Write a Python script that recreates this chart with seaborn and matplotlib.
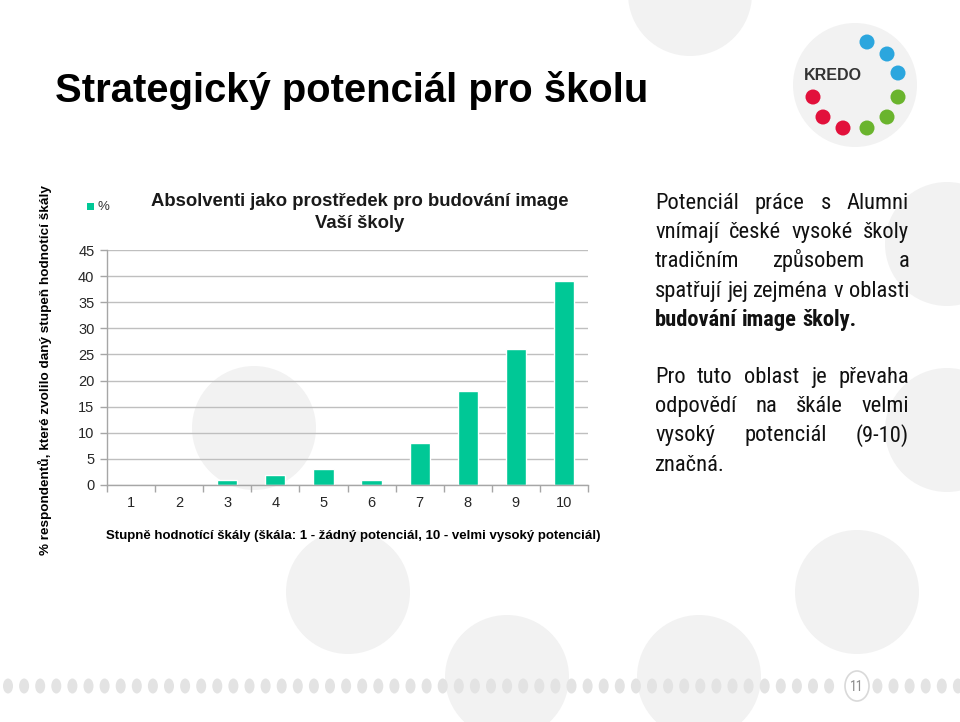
import matplotlib
matplotlib.use('Agg')
import matplotlib.pyplot as plt
import seaborn as sns
import pandas as pd
import numpy as np
from matplotlib.patches import Ellipse, Circle, Rectangle
from matplotlib import font_manager as fm
from matplotlib.ticker import FixedLocator

# ---------------- data ----------------
categories = ['1', '2', '3', '4', '5', '6', '7', '8', '9', '10']
values = [0, 0, 1, 2, 3, 1, 8, 18, 26, 39]
y_ticks = [0, 5, 10, 15, 20, 25, 30, 35, 40, 45]

slide_title = 'Strategický potenciál pro školu'
chart_title_lines = ['Absolventi jako prostředek pro budování image', 'Vaší školy']
legend_label = '%'
y_label = '% respondentů, které zvolilo daný stupeň hodnotící škály'
x_label = 'Stupně hodnotící škály (škála: 1 - žádný potenciál, 10 - velmi vysoký potenciál)'
para1 = ['Potenciál práce s Alumni',
         'vnímají české vysoké školy',
         'tradičním způsobem a',
         'spatřují jej zejména v oblasti']
para1_bold = 'budování image školy.'
para2 = ['Pro tuto oblast je převaha',
         'odpovědí na škále velmi',
         'vysoký potenciál (9-10)',
         'značná.']
page_number = '11'

BAR = '#00c896'
CIRC = '#f2f2f2'

sns.set_theme(style='white')
plt.rcParams['font.family'] = ['Liberation Sans', 'DejaVu Sans']


# ---- find a condensed / narrow font for the right-hand text ----
def pick_condensed(weight):
    prefs = ['Liberation Sans Narrow', 'Roboto Condensed', 'Open Sans Condensed',
             'Noto Sans', 'DejaVu Sans']
    cands = []
    for f in fm.fontManager.ttflist:
        st = str(f.stretch).lower()
        nm = f.name
        cond = ('condensed' in st) or ('narrow' in nm.lower()) or ('condensed' in nm.lower())
        if not cond or str(f.style) != 'normal':
            continue
        if 'extra' in st or 'ultra' in st:
            continue
        rank = len(prefs)
        for i, p in enumerate(prefs):
            if nm.startswith(p):
                rank = i
                break
        try:
            w = int(f.weight)
        except Exception:
            w = 700 if 'bold' in str(f.weight).lower() else 400
        cands.append((rank, abs(w - weight), f.fname))
    if not cands:
        return None
    cands.sort()
    return cands[0][2]


reg_file = pick_condensed(400)
bold_file = pick_condensed(700)
if reg_file:
    FP_REG = fm.FontProperties(fname=reg_file)
    FP_BOLD = fm.FontProperties(fname=bold_file) if bold_file else fm.FontProperties(fname=reg_file, weight='bold')
    CONDENSED = True
else:
    FP_REG = fm.FontProperties(family=['Liberation Sans', 'DejaVu Sans'])
    FP_BOLD = fm.FontProperties(family=['Liberation Sans', 'DejaVu Sans'], weight='bold')
    CONDENSED = False

fig = plt.figure(figsize=(9.6, 7.22), dpi=100)
fig.patch.set_facecolor('white')

bg = fig.add_axes([0, 0, 1, 1])
bg.set_xlim(0, 960)
bg.set_ylim(722, 0)
bg.axis('off')
bg.set_zorder(0)

# background circles
for cx, cy in [(690, -6), (855, 85), (254, 428), (947, 244), (947, 430),
               (348, 592), (857, 592), (507, 677), (699, 677)]:
    bg.add_patch(Circle((cx, cy), 62, color=CIRC, lw=0, zorder=0))

# logo
bg.text(804, 76, 'KREDO', fontsize=11.5, fontweight='bold', color='#333333',
        ha='left', va='center', zorder=2)
logo_dots = [((867, 42), '#2ba6de'), ((887, 54), '#2ba6de'), ((898, 73), '#2ba6de'),
             ((898, 97), '#6ab42d'), ((887, 117), '#6ab42d'), ((867, 128), '#6ab42d'),
             ((843, 128), '#e2103b'), ((823, 117), '#e2103b'), ((813, 97), '#e2103b')]
for (cx, cy), c in logo_dots:
    bg.add_patch(Circle((cx, cy), 7.5, color=c, lw=0, zorder=2))

# footer dots
for k in range(60):
    x = 8 + 16.1 * k
    if x > 965:
        break
    if abs(x - 857) < 20:
        continue
    bg.add_patch(Ellipse((x, 686), 10, 15, color='#e3e3e3', lw=0, zorder=1))
bg.add_patch(Ellipse((857, 686), 24, 30, fc='white', ec='#d9d9d9', lw=1.2, zorder=2))
bg.text(857, 687, page_number, fontsize=10, color='#8c8c8c', ha='center', va='center',
        fontproperties=FP_REG, zorder=3)

# slide title
bg.text(55, 91, slide_title, fontsize=28.8, fontweight='bold', color='black',
        ha='left', va='center', zorder=3)

# chart titles / labels
bg.text(360, 201, chart_title_lines[0], fontsize=13.3, fontweight='bold', color='#1a1a1a',
        ha='center', va='center', zorder=3)
bg.text(360, 224, chart_title_lines[1], fontsize=13.3, fontweight='bold', color='#1a1a1a',
        ha='center', va='center', zorder=3)
bg.add_patch(Rectangle((87, 203), 7, 7, color=BAR, lw=0, zorder=3))
bg.text(97, 207, legend_label, fontsize=9.5, color='#333333', ha='left', va='center', zorder=3)
bg.text(45, 370, y_label, fontsize=9.7, fontweight='bold', color='black', rotation=90,
        ha='center', va='center', zorder=3)
bg.text(353, 536, x_label, fontsize=9.5, fontweight='bold', color='black',
        ha='center', va='center', zorder=3)

# ---------------- chart ----------------
ax = fig.add_axes([107 / 960, 1 - 485 / 722, (588 - 107) / 960, (485 - 250) / 722])
ax.set_zorder(2)
ax.patch.set_alpha(0)
df = pd.DataFrame({'Stupeň': categories, 'Procento': values})
sns.barplot(data=df, x='Stupeň', y='Procento', color=BAR, saturation=1,
            width=0.42, ax=ax)
ax.set_xlim(-0.5, len(categories) - 0.5)
ax.set_ylim(y_ticks[0], y_ticks[-1])
ax.set_yticks(y_ticks)
ax.set_yticklabels([str(v) for v in y_ticks])
ax.yaxis.grid(True, color='#bfbfbf', lw=1)
ax.xaxis.grid(False)
ax.set_axisbelow(True)
for s in ['top', 'right']:
    ax.spines[s].set_visible(False)
for s in ['left', 'bottom']:
    ax.spines[s].set_color('#a6a6a6')
    ax.spines[s].set_linewidth(1)
ax.xaxis.set_minor_locator(FixedLocator(np.arange(-0.5, len(categories), 1.0)))
ax.tick_params(axis='x', which='major', length=0, pad=8, labelsize=10.5, labelcolor='#262626')
ax.tick_params(axis='x', which='minor', length=5, width=1, color='#a6a6a6',
               direction='out', bottom=True)
ax.tick_params(axis='y', which='major', length=5, width=1, color='#a6a6a6',
               direction='out', left=True, labelsize=10.5, pad=4, labelcolor='#262626')
ax.set_xlabel('')
ax.set_ylabel('')

# ---------------- justified right text ----------------
renderer = fig.canvas.get_renderer()
X0, X1 = 655, 909


def measure(s, size, fp):
    t = bg.text(0, 0, s, fontproperties=fp)
    t.set_fontsize(size)
    w = t.get_window_extent(renderer).width
    t.remove()
    return w


size = 16.5 if CONDENSED else 13.5
while True:
    maxw = max(measure(l, size, FP_REG) for l in para1 + para2[:-1])
    if maxw <= (X1 - X0) or size < 8:
        break
    size -= 0.1


def place_line(line, y, fp, justify=True):
    words = line.split(' ')
    widths = [measure(w, size, fp) for w in words]
    if justify and len(words) > 1:
        gap = (X1 - X0 - sum(widths)) / (len(words) - 1)
    else:
        gap = measure('a a', size, fp) - measure('aa', size, fp)
    x = X0
    for w, wd in zip(words, widths):
        t = bg.text(x, y, w, fontproperties=fp, color='#111111',
                    ha='left', va='baseline', zorder=3)
        t.set_fontsize(size)
        x += wd + gap


pitch = 29.2
y = 209
for l in para1:
    place_line(l, y, FP_REG)
    y += pitch
place_line(para1_bold, y, FP_BOLD, justify=False)
y = 383
for i, l in enumerate(para2):
    place_line(l, y, FP_REG, justify=(i < len(para2) - 1))
    y += pitch

fig.savefig('out.png', dpi=100, facecolor='white')
